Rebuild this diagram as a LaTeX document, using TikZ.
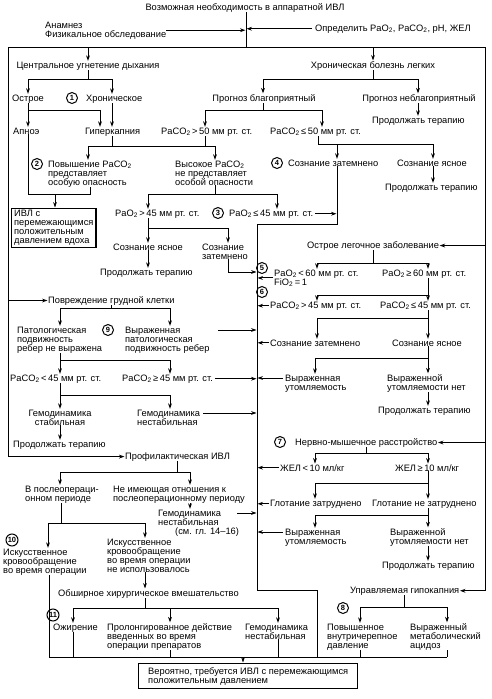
\documentclass[tikz,border=0pt]{standalone}
\usepackage{fontspec}
\setmainfont{Liberation Sans}
\usetikzlibrary{arrows.meta}
\newcommand\tf{\fontsize{9.3}{9}\selectfont}
\newcommand\nf{\fontsize{7.5}{8}\selectfont\bfseries}
\newcommand\two{\textsubscript{2}}
\begin{document}
\begin{tikzpicture}[x=1pt,y=-1pt,
 txt/.style={anchor=base west, inner sep=0pt, align=left, font=\tf},
 ctxt/.style={anchor=base, inner sep=0pt, align=center, font=\tf},
 ln/.style={line width=1pt},
 arr/.style={line width=1pt, -{Stealth[length=5.5pt,width=3.8pt]}, shorten >=0.5pt},
 num/.style={circle, draw, line width=1pt, inner sep=0pt, minimum size=11pt, font=\nf},
 bx/.style={draw, line width=1.4pt, anchor=north west, align=left, font=\tf, inner xsep=2.5pt, inner ysep=0pt}]
\useasboundingbox[fill=white] (0,0) rectangle (491,699);
% ---------- texts (base = baseline of last line) ----------
\node[ctxt] (title) at (245,10) {Возможная необходимость в аппаратной ИВЛ};
\node[txt] (anam) at (45,37) {Анамнез\\Физикальное обследование};
\node[txt] (opred) at (315,31) {Определить PaO\two, PaCO\two, pH, ЖЕЛ};
\node[ctxt] (cent) at (88,68) {Центральное угнетение дыхания};
\node[ctxt] (chron) at (373,68) {Хроническая болезнь легких};
\node[txt] (ostr) at (12,101) {Острое};
\node[num] (n1) at (72,98) {1};
\node[txt] (hron) at (86,101) {Хроническое};
\node[ctxt] (prog1) at (264,101) {Прогноз благоприятный};
\node[ctxt] (prog2) at (419,101) {Прогноз неблагоприятный};
\node[txt] (cont1) at (372,123) {Продолжать терапию};
\node[txt] (apnoe) at (13,134) {Апноэ};
\node[txt] (giper) at (85,134) {Гиперкапния};
\node[txt] (pa50a) at (161,134) {PaCO\two\,>\,50 мм рт. ст.};
\node[txt] (pa50b) at (270,134) {PaCO\two\,≤\,50 мм рт. ст.};
\node[num] (n2) at (37,164) {2};
\node[txt] (povysh) at (48,185) {Повышение PaCO\two\\представляет\\особую опасность};
\node[txt] (vysok) at (175,185) {Высокое PaCO\two\\не представляет\\особой опасности};
\node[num] (n4) at (277,163) {4};
\node[txt] (soz1) at (288,166) {Сознание затемнено};
\node[txt] (soz2) at (397,166) {Сознание ясное};
\node[txt] (cont2) at (385,190) {Продолжать терапию};
\node[bx, minimum width=81pt, minimum height=39pt] (box1) at (11,208) {ИВЛ с\\перемежающимся\\положительным\\давлением вдоха};
\node[txt] (pao45a) at (115,216) {PaO\two\,>\,45 мм рт. ст.};
\node[num] (n3) at (218,213) {3};
\node[txt] (pao45b) at (229,216) {PaO\two\,≤\,45 мм рт. ст.};
\node[txt] (soz3) at (113,250) {Сознание ясное};
\node[txt] (soz4) at (202,259) {Сознание\\затемнено};
\node[txt] (cont3) at (100,275) {Продолжать терапию};
\node[txt] (ostrleg) at (307,248) {Острое легочное заболевание};
\node[num] (n5) at (262,268) {5};
\node[txt] (pao60a) at (274,285) {PaO\two\,<\,60 мм рт. ст.\\FiO\two\,=\,1};
\node[txt] (pao60b) at (382,276) {PaO\two\,≥\,60 мм рт. ст.};
\node[num] (n6) at (262,292) {6};
\node[txt] (paco45a) at (270,308) {PaCO\two\,>\,45 мм рт. ст.};
\node[txt] (paco45b) at (380,308) {PaCO\two\,≤\,45 мм рт. ст.};
\node[txt] (povr) at (48,303) {Повреждение грудной клетки};
\node[txt] (soz5) at (270,346) {Сознание затемнено};
\node[txt] (soz6) at (392,346) {Сознание ясное};
\node[txt] (patol) at (17,351) {Патологическая\\подвижность\\ребер не выражена};
\node[num] (n9) at (108,330) {9};
\node[txt] (vyr) at (125,351) {Выраженная\\патологическая\\подвижность ребер};
\node[txt] (paco45c) at (10,381) {PaCO\two\,<\,45 мм рт. ст.};
\node[txt] (paco45d) at (122,381) {PaCO\two\,≥\,45 мм рт. ст.};
\node[txt] (util1) at (285,390) {Выраженная\\утомляемость};
\node[txt] (util2) at (387,390) {Выраженной\\утомляемости нет};
\node[ctxt] (gem1) at (60,425) {Гемодинамика\\стабильная};
\node[txt] (gem2) at (137,425) {Гемодинамика\\нестабильная};
\node[txt] (cont4) at (378,413) {Продолжать терапию};
\node[txt] (cont5) at (13,447) {Продолжать терапию};
\node[num] (n7) at (280,442) {7};
\node[txt] (nerv) at (295,445) {Нервно-мышечное расстройство};
\node[txt] (prof) at (125,459) {Профилактическая ИВЛ};
\node[txt] (vposle) at (25,501) {В послеопераци-\\онном периоде};
\node[txt] (neim) at (113,501) {Не имеющая отношения к\\послеоперационному периоду};
\node[txt] (zhel1) at (280,471) {ЖЕЛ\,<\,10 мл/кг};
\node[txt] (zhel2) at (395,471) {ЖЕЛ\,≥\,10 мл/кг};
\node[txt] (glot1) at (270,506) {Глотание затруднено};
\node[txt] (glot2) at (372,506) {Глотание не затруднено};
\node[txt] (gem3) at (158,534) {Гемодинамика\\нестабильная\\\hspace*{17pt}(см. гл. 14–16)};
\node[txt] (util3) at (285,544) {Выраженная\\утомляемость};
\node[txt] (util4) at (390,544) {Выраженной\\утомляемости нет};
\node[num, minimum size=12pt] (n10) at (12,540) {10};
\node[txt] (ik1) at (3,573) {Искусственное\\кровообращение\\во время операции};
\node[txt] (ik2) at (107,572) {Искусственное\\кровообращение\\во время операции\\не использовалось};
\node[txt] (cont6) at (382,568) {Продолжать терапию};
\node[txt] (upr) at (350,593) {Управляемая гипокапния};
\node[txt] (obsh) at (58,596) {Обширное хирургическое вмешательство};
\node[num, minimum size=12pt] (n11) at (53,615) {11};
\node[num] (n8) at (343,608) {8};
\node[txt] (ozh) at (53,630) {Ожирение};
\node[txt] (prol) at (107,648) {Пролонгированное действие\\введенных во время\\операции препаратов};
\node[txt] (gem4) at (245,639) {Гемодинамика\\нестабильная};
\node[txt] (pov) at (327,648) {Повышенное\\внутричерепное\\давление};
\node[txt] (vyrm) at (410,648) {Выраженный\\метаболический\\ацидоз};
\node[bx, minimum width=219pt, minimum height=25pt] (final) at (138,663) {Вероятно, требуется ИВЛ с перемежающимся\\положительным давлением};
% ---------- frame ----------
\coordinate (tj) at (246,47);
\coordinate (lb) at (8,47);
\coordinate (rb) at (485,47);
\coordinate (tr0) at (257,224);
\coordinate (trb) at (257,590);
\coordinate (trc) at (317,590);
\coordinate (bl0) at (49,657);
\coordinate (bl1) at (447,657);
\draw[ln] (tj |- title.south) -- (tj);
\draw[arr] (anam.east) -- (anam.east -| tj);
\draw[arr] ([xshift=-3pt]opred.west) -- (opred.west -| tj);
\draw[ln] (lb) -- (rb);
\draw[arr] (lb) |- (prof.west);
\draw[arr] (lb |- povr.west) -- (povr.west);
\draw[arr] (rb) |- (upr.east);
\draw[arr] (rb |- ostrleg.east) -- (ostrleg.east);
\draw[arr] (rb |- nerv.east) -- (nerv.east);
\draw[arr] (cent.north |- lb) -- (cent.north);
\draw[arr] (chron.north |- lb) -- (chron.north);
% ---------- left top ----------
\coordinate (a1) at (28,79); \coordinate (a2) at (112,79);
\draw[ln] (cent.south) -- (cent.south |- a1);
\draw[ln] (a1) -- (a2);
\draw[arr] (a1) -- (a1 |- ostr.north);
\draw[arr] (a2) -- (a2 |- hron.north);
\coordinate (b1) at (28,110); \coordinate (b2) at (100,110);
\draw[ln] (b1 |- ostr.south) -- (b1) -- (b2);
\draw[arr] (b1) -- (b1 |- apnoe.north);
\draw[arr] (b2) -- (b2 |- giper.north);
\draw[arr] (a2 |- hron.south) -- (a2 |- giper.north);
\coordinate (c1l) at (263,79); \coordinate (c1r) at (418,79);
\draw[ln] (chron.south) -- (chron.south |- c1l);
\draw[ln] (c1l) -- (c1r);
\draw[arr] (c1l) -- (c1l |- prog1.north);
\draw[arr] (c1r) -- (c1r |- prog2.north);
\draw[arr] (c1r |- prog2.south) -- (c1r |- cont1.north);
\coordinate (d1) at (205,110); \coordinate (d2) at (322,110);
\draw[ln] (c1l |- prog1.south) -- (c1l |- d1);
\draw[ln] (d1) -- (d2);
\draw[arr] (d1) -- (d1 |- pa50a.north);
\draw[arr] (d2) -- (d2 |- pa50b.north);
\coordinate (e1) at (88,146); \coordinate (e2) at (215,146);
\draw[ln] (a2 |- giper.south) -- (a2 |- e1);
\draw[ln] (d1 |- pa50a.south) -- (d1 |- e1);
\draw[ln] (e1) -- (e2);
\draw[arr] (e1) -- (e1 |- povysh.north);
\draw[arr] (e2) -- (e2 |- vysok.north);
\coordinate (f1) at (28,194); \coordinate (f2) at (90,194); \coordinate (f3) at (55,194);
\draw[ln] (b1 |- apnoe.south) -- (f1) -- (f2) -- (f2 |- povysh.south);
\draw[arr] (f3) -- (f3 |- box1.north);
\coordinate (g1) at (148,194); \coordinate (g2) at (277,194);
\draw[ln] (e2 |- vysok.south) -- (e2 |- g1);
\draw[ln] (g1) -- (g2);
\draw[arr] (g1) -- (g1 |- pao45a.north);
\draw[arr] (g2) -- (g2 |- pao45b.north);
\coordinate (h0) at (318,144); \coordinate (h1) at (337,144); \coordinate (h2) at (433,144);
\draw[ln] (h0 |- pa50b.south) -- (h0) -- (h2);
\draw[arr] (h1) -- (h1 |- soz1.north);
\draw[arr] (h2) -- (h2 |- soz2.north);
\draw[arr] (h2 |- soz2.south) -- (h2 |- cont2.north);
\coordinate (k1) at (337,224);
\draw[ln] (h1 |- soz1.south) -- (k1) -- (tr0) -- (trb) -- (trc) -- (trc |- bl0);
\draw[arr] ([xshift=2pt]pao45b.east) -- (pao45b.east -| k1);
\coordinate (m1) at (148,228); \coordinate (m2) at (228,228);
\draw[ln] (g1 |- pao45a.south) -- (m1) -- (m2);
\draw[arr] (m1) -- (m1 |- soz3.north);
\draw[arr] (m2) -- (m2 |- soz4.north);
\draw[arr] (m1 |- soz3.south) -- (m1 |- cont3.north);
\coordinate (p1) at (257,272);
\draw[arr] (m2 |- soz4.south) |- (p1);
% ---------- left lower ----------
\coordinate (t1) at (60,308); \coordinate (t2) at (170,308);
\draw[ln] (povr.south) -- (povr.south |- t1);
\draw[ln] (t1) -- (t2);
\draw[arr] (t1) -- (t1 |- patol.north);
\draw[arr] (t2) -- (t2 |- vyr.north);
\coordinate (v1) at (218,330);
\draw[arr] (v1) -- (v1 -| tr0);
\coordinate (u1) at (60,360); \coordinate (u2) at (170,360);
\draw[ln] (u1 |- patol.south) -- (u1) -- (u2);
\draw[arr] (u1) -- (u1 |- paco45c.north);
\draw[arr] (u2) -- (u2 |- paco45d.north);
\draw[arr] ([xshift=2pt]paco45d.east) -- (paco45d.east -| tr0);
\coordinate (w1) at (60,395); \coordinate (w2) at (170,395);
\draw[ln] (w1 |- paco45c.south) -- (w1) -- (w2);
\draw[arr] (w1) -- (w1 |- gem1.north);
\draw[arr] (w2) -- (w2 |- gem2.north);
\draw[arr] (w1 |- gem1.south) -- (w1 |- cont5.north);
\coordinate (gx) at (203,413);
\draw[arr] (gx) -- (gx -| tr0);
\coordinate (x1) at (60,472); \coordinate (x2) at (190,472);
\draw[ln] (prof.south) -- (prof.south |- x1);
\draw[ln] (x1) -- (x2);
\draw[arr] (x1) -- (x1 |- vposle.north);
\draw[arr] (x2) -- (x2 |- neim.north);
\draw[arr] (x2 |- neim.south) -- (x2 |- gem3.north);
\coordinate (gy) at (237,513);
\draw[arr] (gy) -- (gy -| tr0);
\coordinate (y1) at (48,523); \coordinate (y2) at (145,523);
\draw[ln] (vposle.south) -- (vposle.south |- y1);
\draw[ln] (y1) -- (y2);
\draw[arr] (y1) -- (y1 |- ik1.north);
\draw[arr] (y2) -- (y2 |- ik2.north);
\draw[ln] (bl0 |- ik1.south) -- (bl0);
\draw[arr] (y2 |- ik2.south) -- (y2 |- obsh.north);
\coordinate (z0) at (145,608); \coordinate (z1) at (73,608); \coordinate (z2) at (170,608); \coordinate (z3) at (278,608);
\draw[ln] (z0 |- obsh.south) -- (z0);
\draw[ln] (z1) -- (z3);
\draw[arr] (z1) -- (z1 |- ozh.north);
\draw[arr] (z2) -- (z2 |- prol.north);
\draw[arr] (z3) -- (z3 |- gem4.north);
\draw[ln] (bl0) -- (bl1);
\draw[ln] (z1 |- ozh.south) -- (z1 |- bl0);
\draw[ln] (z2 |- prol.south) -- (z2 |- bl0);
\draw[ln] (z3 |- gem4.south) -- (z3 |- bl0);
\coordinate (fa) at (243,657);
\draw[arr] (fa) -- (fa |- final.north);
% ---------- right column ----------
\coordinate (q1) at (317,263); \coordinate (q2) at (428,263);
\draw[ln] (ostrleg.south) -- (ostrleg.south |- q1);
\draw[ln] (q1) -- (q2);
\draw[arr] (q1) -- (q1 |- pao60a.north);
\draw[arr] (q2) -- (q2 |- pao60b.north);
\draw[arr] ([xshift=-1pt]pao60a.west) -- (pao60a.west -| tr0);
\coordinate (r1) at (317,295); \coordinate (r2) at (428,295);
\draw[ln] (q2 |- pao60b.south) -- (r2) -- (r1);
\draw[arr] (r1) -- (r1 |- paco45a.north);
\draw[arr] (r2) -- (r2 |- paco45b.north);
\draw[arr] ([xshift=-1pt]paco45a.west) -- (paco45a.west -| tr0);
\coordinate (s1) at (317,318); \coordinate (s2) at (428,318);
\draw[ln] (r2 |- paco45b.south) -- (s2) -- (s1);
\draw[arr] (s1) -- (s1 |- soz5.north);
\draw[arr] (s2) -- (s2 |- soz6.north);
\draw[arr] ([xshift=-1pt]soz5.west) -- (soz5.west -| tr0);
\coordinate (o1) at (315,358); \coordinate (o2) at (428,358);
\draw[ln] (s2 |- soz6.south) -- (o2) -- (o1);
\draw[arr] (o1) -- (o1 |- util1.north);
\draw[arr] (o2) -- (o2 |- util2.north);
\coordinate (ua) at (283,378);
\draw[arr] (ua) -- (ua -| tr0);
\draw[arr] (o2 |- util2.south) -- (o2 |- cont4.north);
\coordinate (nn1) at (315,453); \coordinate (nn2) at (428,453);
\draw[ln] (nerv.south) -- (nerv.south |- nn1);
\draw[ln] (nn1) -- (nn2);
\draw[arr] (nn1) -- (nn1 |- zhel1.north);
\draw[arr] (nn2) -- (nn2 |- zhel2.north);
\draw[arr] ([xshift=-1pt]zhel1.west) -- (zhel1.west -| tr0);
\coordinate (zz1) at (315,483); \coordinate (zz2) at (428,483);
\draw[ln] (nn2 |- zhel2.south) -- (zz2) -- (zz1);
\draw[arr] (zz1) -- (zz1 |- glot1.north);
\draw[arr] (zz2) -- (zz2 |- glot2.north);
\draw[arr] ([xshift=-1pt]glot1.west) -- (glot1.west -| tr0);
\coordinate (gg1) at (315,515); \coordinate (gg2) at (428,515);
\draw[ln] (zz2 |- glot2.south) -- (gg2) -- (gg1);
\draw[arr] (gg1) -- (gg1 |- util3.north);
\draw[arr] (gg2) -- (gg2 |- util4.north);
\coordinate (ub) at (283,532);
\draw[arr] (ub) -- (ub -| tr0);
\draw[arr] (gg2 |- util4.south) -- (gg2 |- cont6.north);
\coordinate (aa1) at (360,607); \coordinate (aa2) at (447,607);
\draw[ln] (upr.south) -- (upr.south |- aa1);
\draw[ln] (aa1) -- (aa2);
\draw[arr] (aa1) -- (aa1 |- pov.north);
\draw[arr] (aa2) -- (aa2 |- vyrm.north);
\draw[ln] (aa1 |- pov.south) -- (aa1 |- bl0);
\draw[ln] (aa2 |- vyrm.south) -- (aa2 |- bl0);
\end{tikzpicture}
\end{document}
